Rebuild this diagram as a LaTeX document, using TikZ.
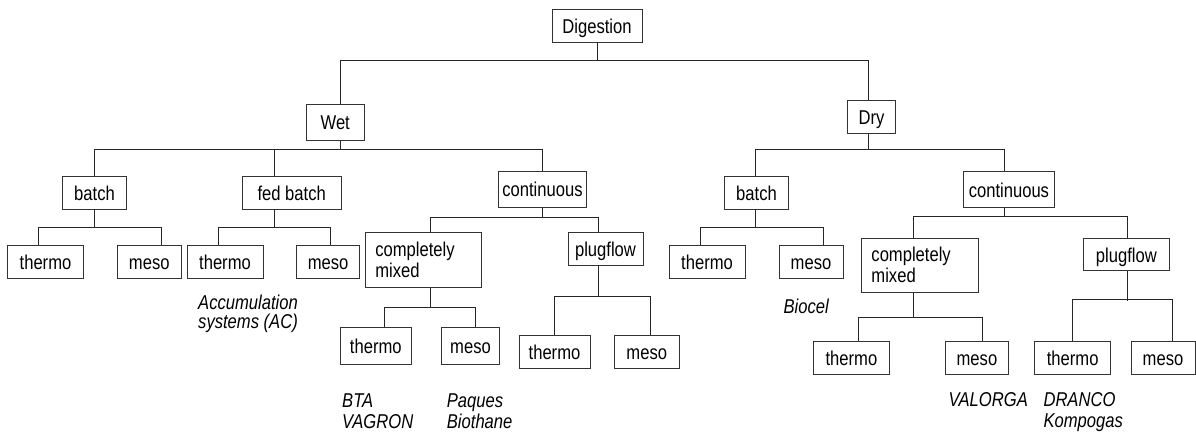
\documentclass[tikz,border=0pt]{standalone}
\usepackage{fontspec}
\setmainfont{Liberation Sans}[FakeStretch=0.83]
\newcommand\dfs{\fontsize{20pt}{21pt}\selectfont}
\begin{document}
\begin{tikzpicture}[x=1pt,y=-1pt,
  bx/.style={draw=black!80, line width=0.9pt, inner sep=0pt, text height=15.5pt, text depth=0pt, font=\dfs},
  bxm/.style={draw=black!80, line width=0.9pt, inner xsep=9.75pt, inner ysep=0pt, align=left, font=\dfs},
  ln/.style={draw=black!85, line width=0.9pt},
  note/.style={anchor=base west, inner sep=0pt, font=\dfs\itshape}]
\useasboundingbox (0,0) rectangle (1196,433);

% boxes
\node[bx, minimum width=90pt, minimum height=32.5pt] (dig) at (597,25.75) {Digestion};
\node[bx, minimum width=57.5pt, minimum height=36pt] (wet) at (335.25,122) {Wet};
\node[bx, minimum width=47.8pt, minimum height=33pt] (dry) at (871.5,116.8) {Dry};
\node[bx, minimum width=63.5pt, minimum height=32.3pt] (wb) at (94.5,192.8) {batch};
\node[bx, minimum width=99.4pt, minimum height=32.3pt] (fb) at (291.7,192.8) {fed batch};
\node[bx, minimum width=87.6pt, minimum height=35.7pt] (wc) at (542.5,189.2) {continuous};
\node[bx, minimum width=63.8pt, minimum height=32.6pt] (db) at (756.5,193) {batch};
\node[bx, minimum width=90.2pt, minimum height=36pt] (dc) at (1008.9,189.3) {continuous};

\node[bx, minimum width=76pt, minimum height=33pt] (wbt) at (45.5,261.8) {thermo};
\node[bx, minimum width=63.5pt, minimum height=33pt] (wbm) at (149.25,261.8) {meso};
\node[bx, minimum width=76pt, minimum height=33pt] (fbt) at (225,261.8) {thermo};
\node[bx, minimum width=63.1pt, minimum height=33pt] (fbm) at (328.15,261.8) {meso};

\node[bxm, text width=96pt, minimum height=55pt] (wcm) at (423.25,259.8) {completely\\mixed};
\node[bx, minimum width=75pt, minimum height=32.7pt] (wpf) at (605.5,248.65) {plugflow};
\node[bx, minimum width=71.2pt, minimum height=36.3pt] (wcmt) at (375.8,345.85) {thermo};
\node[bx, minimum width=58.6pt, minimum height=36.3pt] (wcmm) at (470.5,345.85) {meso};
\node[bx, minimum width=71pt, minimum height=33.3pt] (wpft) at (554.5,351.65) {thermo};
\node[bx, minimum width=64.5pt, minimum height=33.3pt] (wpfm) at (646.75,351.65) {meso};

\node[bx, minimum width=76pt, minimum height=32.7pt] (dbt) at (707,261.65) {thermo};
\node[bx, minimum width=64pt, minimum height=32.7pt] (dbm) at (811,261.65) {meso};
\node[bxm, text width=97.1pt, minimum height=54pt] (dcm) at (920,265.3) {completely\\mixed};
\node[bx, minimum width=86pt, minimum height=32.4pt] (dpf) at (1126.4,254.5) {plugflow};
\node[bx, minimum width=76.4pt, minimum height=32.3pt] (dcmt) at (851.4,357.85) {thermo};
\node[bx, minimum width=63.9pt, minimum height=32.3pt] (dcmm) at (976.95,357.85) {meso};
\node[bx, minimum width=76.4pt, minimum height=32.3pt] (dpft) at (1072.7,357.85) {thermo};
\node[bx, minimum width=64pt, minimum height=32.3pt] (dpfm) at (1163,357.85) {meso};

% connectors
\draw[ln] (dig.south) -- ++(0,18.3) coordinate (j0);
\draw[ln] (j0) -| ([xshift=5.5pt]wet.north);
\draw[ln] (j0) -| ([xshift=-2.9pt]dry.north);

\draw[ln] ([xshift=5.5pt]wet.south) -- ++(0,9) coordinate (jw);
\draw[ln] (jw) -| (wb.north);
\draw[ln] (jw) -| ([xshift=-17.3pt]fb.north);
\draw[ln] (jw) -| (wc.north);

\draw[ln] ([xshift=-2.9pt]dry.south) -- ++(0,15.4) coordinate (jd);
\draw[ln] (jd) -| ([xshift=-1.5pt]db.north);
\draw[ln] (jd) -| ([xshift=-4.9pt]dc.north);

\draw[ln] (wb.south) -- ++(0,18.3) coordinate (jwb);
\draw[ln] (jwb) -| ([xshift=-7.2pt]wbt.north);
\draw[ln] (jwb) -| ([xshift=12.25pt]wbm.north);

\draw[ln] ([xshift=-17.3pt]fb.south) -- ++(0,18.3) coordinate (jfb);
\draw[ln] (jfb) -| ([xshift=-6.5pt]fbt.north);
\draw[ln] (jfb) -| ([xshift=2.15pt]fbm.north);

\draw[ln] (wc.south) -- ++(0,10.3) coordinate (jwc);
\draw[ln] (jwc) -| ([xshift=7.25pt]wcm.north);
\draw[ln] (jwc) -| ([xshift=-7.5pt]wpf.north);

\draw[ln] ([xshift=7.25pt]wcm.south) -- ++(0,20) coordinate (jwcm);
\draw[ln] (jwcm) -| ([xshift=8.8pt]wcmt.north);
\draw[ln] (jwcm) -| ([xshift=4.8pt]wcmm.north);

\draw[ln] ([xshift=-7.5pt]wpf.south) -- ++(0,30.5) coordinate (jwpf);
\draw[ln] (jwpf) -| ([xshift=-0.5pt]wpft.north);
\draw[ln] (jwpf) -| ([xshift=3.25pt]wpfm.north);

\draw[ln] ([xshift=-1.5pt]db.south) -- ++(0,18) coordinate (jdb);
\draw[ln] (jdb) -| ([xshift=-6.1pt]dbt.north);
\draw[ln] (jdb) -| ([xshift=12pt]dbm.north);

\draw[ln] ([xshift=-4.9pt]dc.south) -- ++(0,8.7) coordinate (jdc);
\draw[ln] (jdc) -| ([xshift=-7pt]dcm.north);
\draw[ln] (jdc) -| ([xshift=1.3pt]dpf.north);

\draw[ln] ([xshift=-7pt]dcm.south) -- ++(0,25) coordinate (jdcm);
\draw[ln] (jdcm) -| ([xshift=6.6pt]dcmt.north);
\draw[ln] (jdcm) -| ([xshift=5.05pt]dcmm.north);

\draw[ln] ([xshift=1.3pt]dpf.south) -- ++(0,30.3);
\path ([xshift=1.3pt]dpf.south) ++(0,28.3) coordinate (jdpf);
\draw[ln] (jdpf) -| ([xshift=-0.4pt]dpft.north);
\draw[ln] (jdpf) -| ([xshift=9pt]dpfm.north);

% notes
\node[note] (acc1) at (198,309) {Accumulation};
\node[note] (acc2) at (198,328) {systems (AC)};
\node[note] (bio) at (783.4,313) {Biocel};
\node[note] (bta) at (342,407.3) {BTA};
\node[note] (vag) at (342,428.3) {VAGRON};
\node[note] (paq) at (446.7,407.3) {Paques};
\node[note] (bth) at (446.7,428.3) {Biothane};
\node[note] (val) at (948.3,406.7) {VALORGA};
\node[note] (dra) at (1043.3,406.7) {DRANCO};
\node[note] (kom) at (1043.3,427.7) {Kompogas};
\end{tikzpicture}
\end{document}
